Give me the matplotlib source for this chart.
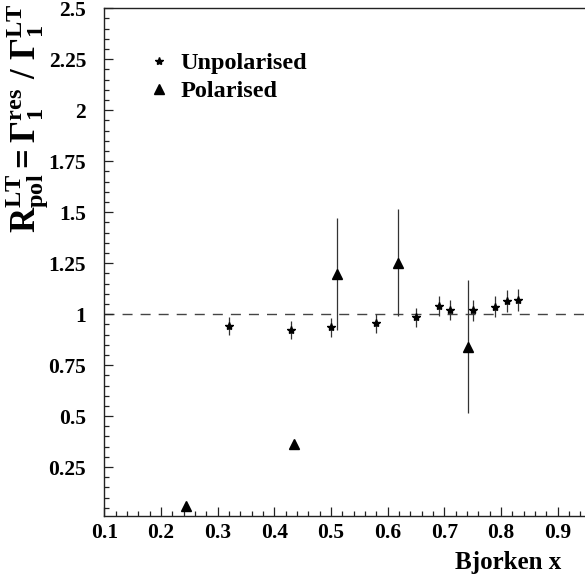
import matplotlib
matplotlib.use("Agg")
import matplotlib.pyplot as plt
from matplotlib.lines import Line2D
from matplotlib.ticker import MultipleLocator

# ---- data ----
unpol_x = [0.32, 0.43, 0.50, 0.58, 0.65, 0.69, 0.71, 0.75, 0.79, 0.81, 0.83]
unpol_y = [0.943, 0.923, 0.935, 0.956, 0.985, 1.041, 1.021, 1.018, 1.037, 1.064, 1.069]
unpol_err = [0.045, 0.045, 0.045, 0.047, 0.047, 0.050, 0.050, 0.050, 0.052, 0.052, 0.052]

pol_x = [0.244, 0.435, 0.510, 0.618, 0.742]
pol_y = [0.060, 0.365, 1.196, 1.253, 0.841]
pol_err = [0.008, 0.015, 0.275, 0.263, 0.326]

legend_labels = ["Unpolarised", "Polarised"]
x_label = "Bjorken x"
y_label = r"$R^{LT}_{pol} = \Gamma_1^{res}\ /\ \Gamma_1^{LT}$"
ref_value = 1.0

plt.rcParams["font.family"] = ["Liberation Serif", "DejaVu Serif"]
plt.rcParams["font.weight"] = "bold"
plt.rcParams["mathtext.fontset"] = "custom"
plt.rcParams["mathtext.rm"] = "Liberation Serif:bold"
plt.rcParams["mathtext.it"] = "Liberation Serif:bold"
plt.rcParams["mathtext.bf"] = "Liberation Serif:bold"
plt.rcParams["mathtext.default"] = "rm"

fig = plt.figure(figsize=(5.85, 5.82), dpi=100)
W, H = 585.0, 582.0
left_px, right_px, top_px, bot_px = 104.3, 614.3, 8.3, 516.0
ax_w_px, ax_h_px = right_px - left_px, bot_px - top_px
ax = fig.add_axes([left_px / W, 1 - bot_px / H, ax_w_px / W, ax_h_px / H])
ax.set_xlim(0.1, 1.0)
ax.set_ylim(0.01, 2.5)

ecol = "#333333"
ax.axhline(ref_value, color="#444444", lw=1.0, linestyle=(0, (7.2, 5.8)), zorder=1)

ax.errorbar(unpol_x, unpol_y, yerr=unpol_err, fmt="*", color="black", ms=6,
            ecolor=ecol, elinewidth=0.9, capsize=0, zorder=3)
ax.errorbar(pol_x, pol_y, yerr=pol_err, fmt="^", color="black", ms=6.5,
            ecolor=ecol, elinewidth=0.9, capsize=0, zorder=3)

for s in ax.spines.values():
    s.set_linewidth(1.0)
    s.set_color("#222222")

ax.xaxis.set_major_locator(MultipleLocator(0.1))
ax.xaxis.set_minor_locator(MultipleLocator(0.02))
ax.yaxis.set_major_locator(MultipleLocator(0.25))
ax.yaxis.set_minor_locator(MultipleLocator(0.05))
ax.tick_params(which="both", direction="in", top=False, right=False, width=0.9, color="#222222")
ax.tick_params(which="major", length=6.5)
ax.tick_params(which="minor", length=3.3)
ax.tick_params(axis="y", which="major", labelsize=15.5, pad=13)
ax.tick_params(axis="x", which="major", labelsize=15.5, pad=5)

def fmt_y(v, pos):
    return ("%.2f" % v).rstrip("0").rstrip(".")

def fmt_x(v, pos):
    return "%.1f" % v if v < 0.95 else ""

ax.yaxis.set_major_formatter(plt.FuncFormatter(fmt_y))
ax.xaxis.set_major_formatter(plt.FuncFormatter(fmt_x))
for lab in ax.get_xticklabels() + ax.get_yticklabels():
    lab.set_fontweight("bold")

# axis labels
fig.text(561.7 / W, 1 - 563 / H, x_label, ha="right", va="center",
         fontsize=18, fontweight="bold")
fig.text(27 / W, 1 - 3 / H, y_label, ha="center", va="top", rotation=90,
         fontsize=25)

# legend
handles = [Line2D([], [], marker="*", color="black", ls="none", ms=6),
           Line2D([], [], marker="^", color="black", ls="none", ms=6.5)]
leg = ax.legend(handles, legend_labels, loc="upper left", frameon=False,
                bbox_to_anchor=(43 / ax_w_px, 1 - 44 / ax_h_px),
                prop={"size": 17.5, "weight": "bold"}, handlelength=1.0,
                handletextpad=0.35, labelspacing=0.25, borderaxespad=0, borderpad=0)

fig.savefig("out.png", dpi=100)
